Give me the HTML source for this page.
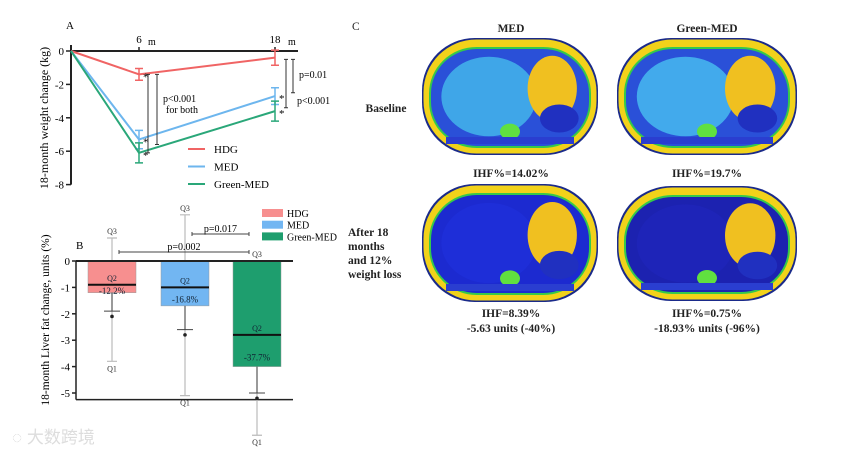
<!DOCTYPE html>
<html><head><meta charset="utf-8"><style>
body{margin:0;background:#fff;}
svg{display:block;font-family:"Liberation Serif",serif;}
</style></head><body>
<svg id="fig" width="858" height="454" viewBox="0 0 858 454">
<g id="panelA"></g>
<g id="panelB"></g>
<g id="panelC"></g>
<text x="12" y="443" font-family="'Liberation Sans','Noto Sans CJK SC',sans-serif" font-size="17" fill="#ddd">◌ 大数跨境</text>
</svg>
<script>
// Panel A data
const aTimes=[0,6,18];
const aTimeLabels=["","6","18"];
const aYTicks=[0,-2,-4,-6,-8];
const hdgWeight=[0,-1.4,-0.4];
const hdgErr=[0,0.35,0.45];
const medWeight=[0,-5.3,-2.7];
const medErr=[0,0.55,0.5];
const greenWeight=[0,-6.1,-3.6];
const greenErr=[0,0.6,0.6];
const aSeriesNames=["HDG","MED","Green-MED"];
// Panel B data
const bGroups=["HDG","MED","Green-MED"];
const bYTicks=[0,-1,-2,-3,-4,-5];
const bBarBottom=[-1.2,-1.7,-4.0];
const bMedian=[-0.9,-1.0,-2.8];
const bQ3=[0.87,1.75,0.0];
const bQ1=[-3.8,-5.1,-6.6];
const bCap=[-1.9,-2.6,-5.0];
const bMean=[-2.1,-2.8,-5.2];
const bPct=["-12.2%","-16.8%","-37.7%"];

const NS="http://www.w3.org/2000/svg";
const colors=["#f06464","#6db6ee","#2aa779"];
const fills=["#f78f8f","#72b6f2","#1e9e6e"];
function mk(parent,tag,attrs,text){const e=document.createElementNS(NS,tag);for(const k in attrs)e.setAttribute(k,attrs[k]);if(text!==undefined)e.textContent=text;parent.appendChild(e);return e;}

// ---- Panel A
const A=document.getElementById('panelA');
const ax=t=>71+t*(275-71)/18;
const ay=v=>51-v*16.7;
let e;
e=mk(A,'line',{x1:71,y1:ay(0),x2:298,y2:ay(0),stroke:'#222','stroke-width':2});

e=mk(A,'line',{x1:71,y1:45,x2:71,y2:ay(-8),stroke:'#222','stroke-width':2});

aYTicks.forEach(v=>{
 mk(A,'line',{x1:66,y1:ay(v),x2:71,y2:ay(v),stroke:'#222','stroke-width':1.5});
 e=mk(A,'text',{x:64,y:ay(v)+4,'text-anchor':'end','font-size':11},v);
 
});
aTimes.forEach((t,i)=>{ if(i>0){
 mk(A,'line',{x1:ax(t),y1:ay(0)-4,x2:ax(t),y2:ay(0),stroke:'#222','stroke-width':1.5});
 e=mk(A,'text',{x:ax(t),y:43,'text-anchor':'middle','font-size':11},aTimeLabels[i]);
 
 mk(A,'text',{x:ax(t)+(i==1?9:13),y:45,'font-size':10},'m');
}});
e=mk(A,'text',{x:70,y:29,'font-size':11,'text-anchor':'middle'},'A');

e=mk(A,'text',{x:48,y:118,'font-size':12,'text-anchor':'middle',transform:'rotate(-90 48 118)'},'18-month weight change (kg)');

[[hdgWeight,hdgErr],[medWeight,medErr],[greenWeight,greenErr]].forEach(([vals,errs],s)=>{
 const pts=vals.map((v,i)=>ax(aTimes[i])+','+ay(v)).join(' ');
 e=mk(A,'polyline',{points:pts,fill:'none',stroke:colors[s],'stroke-width':2});
 
 vals.forEach((v,i)=>{ if(errs[i]>0){
  const x=ax(aTimes[i]);
  e=mk(A,'path',{d:`M${x},${ay(v+errs[i])}V${ay(v-errs[i])}M${x-4},${ay(v+errs[i])}h8M${x-4},${ay(v-errs[i])}h8`,stroke:colors[s],'stroke-width':1.5,fill:'none'});
  
  if(s>0||i==1) mk(A,'text',{x:x+4,y:ay(v)+6,'font-size':11},'*');
 }});
});
[[148,hdgWeight[1],greenWeight[1]],[157,hdgWeight[1],medWeight[1]-0.3],[286,hdgWeight[2]-0.1,greenWeight[2]+0.2],[293,hdgWeight[2]-0.1,-2.5]].forEach(([x,v1,v2])=>{
 e=mk(A,'path',{d:`M${x-2},${ay(v1)}h4M${x},${ay(v1)}V${ay(v2)}M${x-2},${ay(v2)}h4`,stroke:'#333','stroke-width':1,fill:'none'});
 
});
mk(A,'text',{x:163,y:102,'font-size':10},'p<0.001');
mk(A,'text',{x:166,y:113,'font-size':10},'for both');
mk(A,'text',{x:299,y:78,'font-size':10},'p=0.01');
mk(A,'text',{x:297,y:104,'font-size':10},'p<0.001');
aSeriesNames.forEach((n,s)=>{
 const y=149+s*17.5;
 e=mk(A,'line',{x1:188,y1:y,x2:205,y2:y,stroke:colors[s],'stroke-width':2});
 
 e=mk(A,'text',{x:214,y:y+4,'font-size':11},n);
 
});

// ---- Panel B
const B=document.getElementById('panelB');
const by=v=>261-v*26.4;
const bx=[112,185,257];
bYTicks.forEach(v=>{
 mk(B,'line',{x1:72,y1:by(v),x2:76,y2:by(v),stroke:'#222','stroke-width':1.5});
 e=mk(B,'text',{x:70,y:by(v)+4,'text-anchor':'end','font-size':11},v);
 
});
e=mk(B,'line',{x1:76,y1:by(0),x2:76,y2:by(-5.25),stroke:'#222','stroke-width':1.5});

e=mk(B,'line',{x1:76,y1:by(-5.25),x2:293,y2:by(-5.25),stroke:'#222','stroke-width':1.5});

e=mk(B,'text',{x:49,y:320,'font-size':11.5,'text-anchor':'middle',transform:'rotate(-90 49 320)'},'18-month Liver fat change, units (%)');

mk(B,'text',{x:76,y:249,'font-size':11},'B');
bGroups.forEach((g,i)=>{
 const x=bx[i];
 e=mk(B,'path',{d:`M${x},${by(bQ3[i])}V${by(bQ1[i])}M${x-5},${by(bQ3[i])}h10M${x-5},${by(bQ1[i])}h10`,stroke:'#bbb','stroke-width':1.2,fill:'none'});
 
 e=mk(B,'rect',{x:x-24,y:by(0),width:48,height:by(bBarBottom[i])-by(0),fill:fills[i],stroke:'#999','stroke-width':0.5});
 
 e=mk(B,'line',{x1:x-24,y1:by(bMedian[i]),x2:x+24,y2:by(bMedian[i]),stroke:'#111','stroke-width':2});
 
 e=mk(B,'path',{d:`M${x},${by(bBarBottom[i])}V${by(bCap[i])}M${x-8},${by(bCap[i])}h16`,stroke:'#444','stroke-width':1,fill:'none'});
 e=mk(B,'circle',{cx:x,cy:by(bMean[i]),r:1.8,fill:'#222'});
 
 mk(B,'text',{x:x,y:by(bQ3[i])-4,'font-size':8,'text-anchor':'middle',fill:'#333'},'Q3');
 mk(B,'text',{x:x,y:by(bQ1[i])+10,'font-size':8,'text-anchor':'middle',fill:'#333'},'Q1');
 mk(B,'text',{x:x,y:by(bMedian[i])-4,'font-size':8,'text-anchor':'middle',fill:'#123'},'Q2');
 const py=i==0?by(bMedian[i])+9:(i==1?by(bMedian[i])+15:by(bBarBottom[i])-6);
 e=mk(B,'text',{x:x,y:py,'font-size':9,'text-anchor':'middle',fill:'#123'},bPct[i]);
 
});
e=mk(B,'line',{x1:76,y1:by(0),x2:293,y2:by(0),stroke:'#222','stroke-width':2});

[[192,249,234,'p=0.017'],[119,249,252,'p=0.002']].forEach(([x1,x2,y,t])=>{
 e=mk(B,'path',{d:`M${x1},${y-2}v4M${x1},${y}H${x2}M${x2},${y-2}v4`,stroke:'#444','stroke-width':1,fill:'none'});
 
 mk(B,'text',{x:(x1+x2)/2,y:y-2,'font-size':10,'text-anchor':'middle'},t);
});
bGroups.forEach((g,i)=>{
 const y=209+i*11.7;
 e=mk(B,'rect',{x:262,y:y,width:21,height:8,fill:fills[i]});
 
 e=mk(B,'text',{x:287,y:y+8,'font-size':10},g);
 
});

// ---- Panel C
const C=document.getElementById('panelC');
function scan(x,y,w,h,inner,organ,name){
 const g=mk(C,'g',{});
 
 const cx=x+w/2,cy=y+h/2;
 mk(g,'rect',{x:x,y:y,width:w,height:h,rx:w*0.3,ry:h*0.45,fill:'#1a2a8a'});
 mk(g,'rect',{x:x+1.5,y:y+1.5,width:w-3,height:h-3,rx:w*0.3,ry:h*0.45,fill:'#f2d21a'});
 mk(g,'rect',{x:x+7,y:y+9,width:w-14,height:h-16,rx:w*0.27,ry:h*0.4,fill:'#35c94a'});
 mk(g,'rect',{x:x+9,y:y+11,width:w-18,height:h-20,rx:w*0.26,ry:h*0.38,fill:inner});
 mk(g,'ellipse',{cx:x+w*0.38,cy:cy,rx:w*0.27,ry:h*0.34,fill:organ});
 mk(g,'ellipse',{cx:x+w*0.74,cy:cy-8,rx:w*0.14,ry:h*0.28,fill:'#f0c020'});
 mk(g,'ellipse',{cx:x+w*0.78,cy:cy+22,rx:w*0.11,ry:h*0.12,fill:'#2030c0'});
 mk(g,'ellipse',{cx:x+w*0.5,cy:y+h*0.8,rx:10,ry:8,fill:'#60e040'});
 mk(g,'rect',{x:x+24,y:y+h-18,width:w-48,height:7,fill:'#2a3ed0'});
}
scan(422,38,176,117,'#2a50d8','#3fa6e8','mri-med-baseline');
scan(617,38,180,117,'#2a50d8','#42aaec','mri-green-med-baseline');
scan(422,184,176,118,'#1c2ad0','#1e2ed8','mri-med-after');
scan(617,186,180,115,'#1c22b0','#1e24b8','mri-green-med-after');
const ct=[[352,30,'C','start'],[511,32,'MED','middle'],[707,32,'Green-MED','middle'],[386,112,'Baseline','middle'],
[511,177,'IHF%=14.02%','middle'],[707,177,'IHF%=19.7%','middle'],
[348,236,'After 18','start'],[348,250,'months','start'],[348,264,'and 12%','start'],[348,278,'weight loss','start'],
[511,317,'IHF=8.39%','middle'],[511,332,'-5.63 units (-40%)','middle'],[707,317,'IHF%=0.75%','middle'],[707,332,'-18.93% units (-96%)','middle']];
ct.forEach(([x,y,t,a])=>{
 e=mk(C,'text',{x:x,y:y,'font-size':11.5,'font-weight':t=='C'?'normal':'bold','text-anchor':a,fill:'#222'},t);
 
});
</script>
</body></html>
